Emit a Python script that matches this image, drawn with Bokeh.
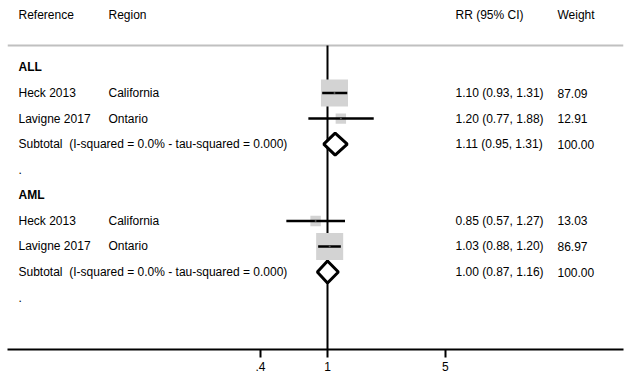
import numpy as np
from bokeh.plotting import figure
from bokeh.models import ColumnDataSource, Range1d, FixedTicker
from bokeh.core.properties import value
from bokeh.embed import file_html
from bokeh.resources import INLINE

# ---- data ----
groups = ["ALL", "AML"]
studies = ["Heck 2013", "Lavigne 2017", "Heck 2013", "Lavigne 2017"]
regions = ["California", "Ontario", "California", "Ontario"]
study_group = ["ALL", "ALL", "AML", "AML"]
rr = [1.10, 1.20, 0.85, 1.03]
rr_lo = [0.93, 0.77, 0.57, 0.88]
rr_hi = [1.31, 1.88, 1.27, 1.20]
weights = [87.09, 12.91, 13.03, 86.97]
sub_rr = [1.11, 1.00]
sub_lo = [0.95, 0.87]
sub_hi = [1.31, 1.16]
sub_weight = [100.00, 100.00]
sub_label = "Subtotal\u00a0 (I-squared = 0.0% - tau-squared = 0.000)"
headers = ["Reference", "Region", "RR (95% CI)", "Weight"]
tick_values = [0.4, 1, 5]
tick_labels = [".4", "1", "5"]

# ---- layout helpers ----
W, H = 627, 383
FONT = value("Liberation Sans")
FS = "12px"
PX0, PXD = 327.0, 168.6  # pixel of RR=1, pixels per decade


def xd(px):
    return 10 ** ((px - PX0) / PXD)


COLX = [xd(18), xd(108), xd(455), xd(557)]

# rows
r = 1
group_rows, study_rows, sub_rows, dot_rows = [], [], [], []
for g in groups:
    group_rows.append(r); r += 1
    for i, sg in enumerate(study_group):
        if sg == g:
            study_rows.append(r); r += 1
    sub_rows.append(r); r += 1
    dot_rows.append(r); r += 1

p = figure(width=W, height=H, output_backend="svg", toolbar_location=None,
           x_axis_type="log", x_range=Range1d(xd(7), xd(623)),
           y_range=Range1d(12.03, -1.62),
           min_border_left=7, min_border_right=4, min_border_top=0,
           min_border_bottom=34)
p.outline_line_color = None
p.grid.visible = False
p.yaxis.visible = False
p.background_fill_color = "white"

ax = p.xaxis[0]
ax.ticker = FixedTicker(ticks=tick_values, minor_ticks=[])
ax.major_label_overrides = {v: l for v, l in zip(tick_values, tick_labels)}
ax.axis_line_width = 2
ax.axis_line_color = "black"
ax.major_tick_line_width = 2
ax.major_tick_out = 8
ax.major_tick_in = 0
ax.minor_tick_line_color = None
ax.major_label_text_font = "Liberation Sans"
ax.major_label_text_font_size = FS
ax.major_label_text_color = "black"
ax.major_label_standoff = 4

line_row = 0.14
# header separator
p.segment(x0=[xd(7)], x1=[xd(623)], y0=[line_row], y1=[line_row],
          line_color="#c0c0c0", line_width=2)
# null line
p.segment(x0=[1], x1=[1], y0=[line_row], y1=[12.03], line_color="black", line_width=2)

# CI lines and boxes
src = ColumnDataSource(dict(y=study_rows, rr=rr, lo=rr_lo, hi=rr_hi,
                            size=[2.9 * np.sqrt(w) for w in weights]))
p.scatter(x="rr", y="y", size="size", marker="square", source=src,
          fill_color="#d3d3d3", line_color=None)
p.segment(x0="lo", x1="hi", y0="y", y1="y", source=src, line_color="black", line_width=2.5)
p.scatter(x="rr", y="y", size=2, marker="circle", source=src,
          fill_color="#555555", line_color=None)

# diamonds
h = 0.43
xs = [[lo, e, hi, e] for lo, e, hi in zip(sub_lo, sub_rr, sub_hi)]
ys = [[y, y - h, y, y + h] for y in sub_rows]
p.patches(xs=xs, ys=ys, fill_color="white", line_color="black", line_width=3)

# texts
def txt(x, y, t, bold=False):
    p.text(x=x, y=y, text=t, text_font=FONT, text_font_size=FS,
           text_baseline="middle", text_align="left", text_color="black",
           text_font_style="bold" if bold else "normal")

txt(COLX, [-1.07] * 4, headers)
txt([COLX[0]] * len(groups), group_rows, groups, bold=True)
txt([COLX[0]] * 4, study_rows, studies)
txt([COLX[1]] * 4, study_rows, regions)
txt([COLX[2]] * 4, study_rows,
    ["%.2f (%.2f, %.2f)" % (a, b, c) for a, b, c in zip(rr, rr_lo, rr_hi)])
txt([COLX[3]] * 4, study_rows, ["%.2f" % w for w in weights])
txt([COLX[0]] * 2, sub_rows, [sub_label] * 2)
txt([COLX[2]] * 2, sub_rows,
    ["%.2f (%.2f, %.2f)" % (a, b, c) for a, b, c in zip(sub_rr, sub_lo, sub_hi)])
txt([COLX[3]] * 2, sub_rows, ["%.2f" % w for w in sub_weight])
txt([COLX[0]] * 2, dot_rows, ["."] * 2)

open("out.html", "w").write(file_html(p, INLINE))
